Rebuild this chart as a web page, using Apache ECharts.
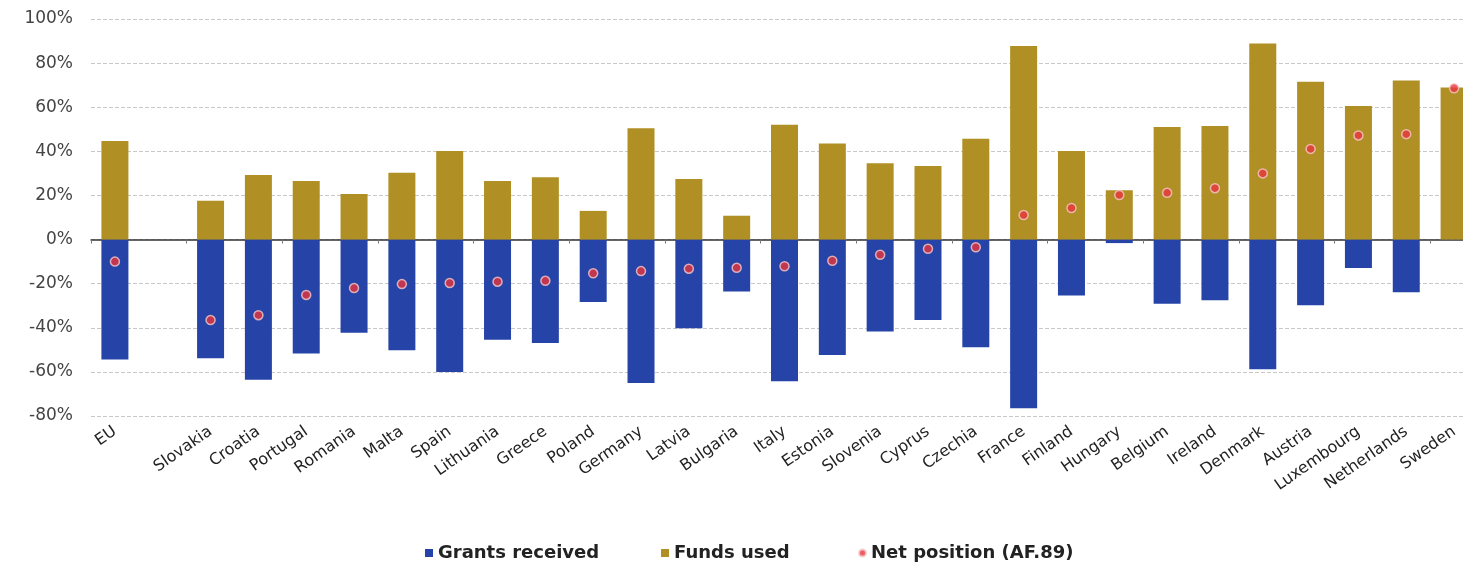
<!DOCTYPE html>
<html>
<head>
<meta charset="utf-8">
<script src="https://cdn.jsdelivr.net/npm/echarts@6/dist/echarts.min.js"></script>
<style>
html,body{margin:0;padding:0;background:#fff;overflow:hidden;}
#chart{width:1480px;height:563px;}
</style>
</head>
<body>
<div id="chart"></div>
<script>
const categories = ['EU','','Slovakia','Croatia','Portugal','Romania','Malta','Spain','Lithuania','Greece','Poland','Germany','Latvia','Bulgaria','Italy','Estonia','Slovenia','Cyprus','Czechia','France','Finland','Hungary','Belgium','Ireland','Denmark','Austria','Luxembourg','Netherlands','Sweden'];
const grantsReceived = [-54.4,null,-53.8,-63.6,-51.7,-42.2,-50.2,-60.0,-45.4,-46.9,-28.3,-65.0,-40.2,-23.5,-64.2,-52.3,-41.7,-36.5,-48.8,-76.5,-25.4,-1.6,-29.1,-27.5,-58.8,-29.8,-12.9,-23.9,null];
const fundsUsed = [44.7,null,17.6,29.3,26.6,20.6,30.3,40.2,26.6,28.2,13.0,50.5,27.5,10.8,52.0,43.6,34.6,33.3,45.7,87.8,40.2,22.4,51.0,51.5,88.9,71.5,60.6,72.1,68.9];
const netPosition = [-10.0,null,-36.5,-34.3,-25.1,-22.0,-20.2,-19.7,-19.1,-18.7,-15.3,-14.3,-13.2,-12.8,-12.1,-9.6,-6.9,-4.2,-3.5,11.1,14.3,20.2,21.2,23.3,30.0,41.1,47.2,47.8,68.6];
const yTicks = {min:-80, max:100, interval:20};

const chart = echarts.init(document.getElementById('chart'), null, {renderer:'canvas'});
const font = 'DejaVu Sans';
const legendText = {fontFamily:font, fontSize:18, fontWeight:'bold', color:'#222'};
function legendAt(left, name, icon, size){
  return {left:left, top:539, itemWidth:size, itemHeight:size, itemGap:4, textStyle:legendText,
    data:[{name:name, icon:icon}]};
}
chart.setOption({
  animation:false,
  backgroundColor:'#fff',
  grid:{left:91, top:19, width:1387, height:397, containLabel:false},
  legend:[
    legendAt(420, 'Grants received', 'rect', 8),
    legendAt(656, 'Funds used', 'rect', 8),
    legendAt(853, 'Net position (AF.89)', 'circle', 7)
  ],
  xAxis:[
    {type:'category', data:categories, position:'top',
     axisLine:{onZero:true, lineStyle:{color:'#333', width:1.5}},
     axisTick:{show:true, inside:true, length:4, lineStyle:{color:'#777'}},
     axisLabel:{show:false}, splitLine:{show:false}},
    {type:'category', data:categories, position:'bottom',
     axisLine:{show:false, onZero:false}, axisTick:{show:false}, splitLine:{show:false},
     axisLabel:{show:true, interval:0, rotate:35, margin:14, fontFamily:font, fontSize:16, color:'#222'}}
  ],
  yAxis:{type:'value', min:yTicks.min, max:yTicks.max, interval:yTicks.interval,
    axisLine:{show:false}, axisTick:{show:false},
    axisLabel:{formatter:'{value}%', fontFamily:font, fontSize:17, color:'#444', margin:18},
    splitLine:{show:true, lineStyle:{color:'#c8c8c8', type:'dashed', width:1}}},
  series:[
    {name:'Grants received', type:'bar', stack:'s', xAxisIndex:0, data:grantsReceived, barWidth:27,
     itemStyle:{color:'#2644a8'}},
    {name:'Funds used', type:'bar', stack:'s', xAxisIndex:0, data:fundsUsed, barWidth:27,
     itemStyle:{color:'#b08f24'}},
    {name:'Net position (AF.89)', type:'scatter', xAxisIndex:0, data:netPosition, symbolSize:9, z:5,
     itemStyle:{color:'#e8343c', borderColor:'#f5c9c9', borderWidth:1.5}}
  ]
});
</script>
</body>
</html>
